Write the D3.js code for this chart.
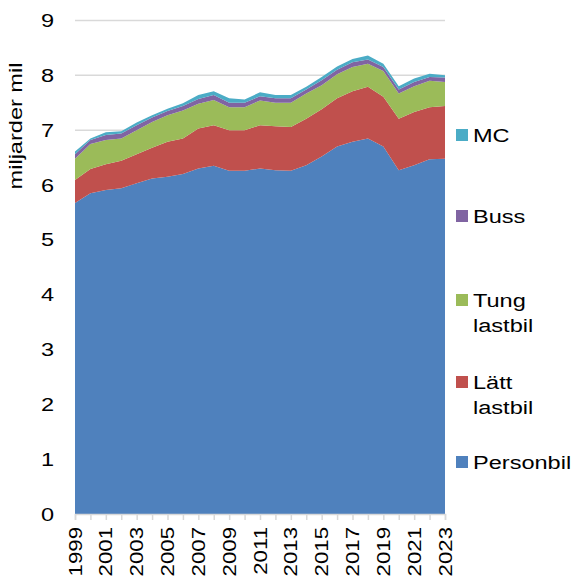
<!DOCTYPE html>
<html>
<head>
<meta charset="utf-8">
<script src="https://cdn.jsdelivr.net/npm/d3@7"></script>
<style>
  body { margin: 0; background: #fff; }
  svg text { font-family: "Liberation Sans", Arial, sans-serif; fill: #000; }
</style>
</head>
<body>
<svg id="svg" width="575" height="580"></svg>
<script>
var years = d3.range(1999, 2024);

var personbil   = [5.67,5.85,5.91,5.94,6.03,6.12,6.15,6.20,6.30,6.35,6.26,6.26,6.30,6.27,6.26,6.36,6.52,6.70,6.79,6.85,6.70,6.27,6.36,6.47,6.48];
var lattLastbil = [0.42,0.44,0.47,0.50,0.53,0.56,0.64,0.65,0.73,0.74,0.74,0.74,0.79,0.80,0.80,0.85,0.86,0.88,0.92,0.94,0.91,0.94,0.97,0.95,0.96];
var tungLastbil = [0.39,0.46,0.44,0.41,0.44,0.47,0.48,0.51,0.45,0.46,0.42,0.42,0.45,0.43,0.44,0.46,0.44,0.44,0.44,0.42,0.47,0.46,0.47,0.48,0.44];
var buss        = [0.08,0.07,0.09,0.09,0.09,0.08,0.08,0.08,0.09,0.09,0.08,0.08,0.08,0.08,0.08,0.07,0.09,0.08,0.09,0.08,0.07,0.07,0.08,0.07,0.08];
var mc          = [0.05,0.03,0.05,0.04,0.05,0.04,0.04,0.05,0.07,0.07,0.08,0.06,0.07,0.06,0.06,0.05,0.06,0.06,0.06,0.07,0.06,0.06,0.06,0.06,0.04];

var keys = ["Personbil", "Lätt lastbil", "Tung lastbil", "Buss", "MC"];
var colors = ["#4f81bd", "#c0504d", "#9bbb59", "#8064a2", "#4bacc6"];
var yTicks = d3.range(0, 10);
var yearLabels = years.filter(function(d) { return d % 2 === 1; });

var table = years.map(function(y, i) {
  return { year: y, "Personbil": personbil[i], "Lätt lastbil": lattLastbil[i],
           "Tung lastbil": tungLastbil[i], "Buss": buss[i], "MC": mc[i] };
});

var svg = d3.select("#svg");

// text in the original is a bit wide, stretch along the writing direction
var FS = "19px", SX = "scale(1.24,1)";

var x = d3.scaleLinear().domain([1999, 2023]).range([75, 445]);
var y = d3.scaleLinear().domain([0, 9]).range([514, 20.5]);
var color = d3.scaleOrdinal().domain(keys).range(colors);

// gridlines
svg.append("g")
  .selectAll("line")
  .data(yTicks.slice(1))
  .enter().append("line")
    .attr("x1", x(1999)).attr("x2", x(2023))
    .attr("y1", function(d) { return y(d); })
    .attr("y2", function(d) { return y(d); })
    .attr("stroke", "#d9d9d9")
    .attr("stroke-width", 1.5);

var series = d3.stack().keys(keys)(table);

var area = d3.area()
    .x(function(d) { return x(d.data.year); })
    .y0(function(d) { return y(d[0]); })
    .y1(function(d) { return y(d[1]); });

svg.append("g")
  .selectAll("path")
  .data(series)
  .enter().append("path")
    .attr("fill", function(d) { return color(d.key); })
    .attr("d", area);

// x axis ticks
var xAxis = svg.append("g")
    .attr("transform", "translate(0," + y(0) + ")")
    .call(d3.axisBottom(x)
      .tickValues(years)
      .tickSize(6)
      .tickFormat(""));
xAxis.select(".domain").attr("stroke", "#d9d9d9").attr("stroke-width", 1.5);
xAxis.selectAll(".tick line").attr("stroke", "#d9d9d9").attr("stroke-width", 1.5);

// year labels, a little less stretched so they fit above the bottom edge
svg.append("g")
  .selectAll("text")
  .data(yearLabels)
  .enter().append("text")
    .attr("transform", function(d) { return "translate(" + x(d) + ",527) rotate(-90) scale(1.17,1)"; })
    .attr("text-anchor", "end")
    .attr("dy", "0.35em")
    .attr("font-size", FS)
    .text(function(d) { return d; });

// y axis labels
svg.append("g")
  .selectAll("text")
  .data(yTicks)
  .enter().append("text")
    .attr("transform", function(d) { return "translate(54," + y(d) + ") " + SX; })
    .attr("dy", "0.35em")
    .attr("text-anchor", "end")
    .attr("font-size", FS)
    .text(function(d) { return d; });

svg.append("text")
    .attr("transform", "translate(22,126) rotate(-90) " + SX)
    .attr("text-anchor", "middle")
    .attr("font-size", FS)
    .text("miljarder mil");

// legend
var legendItems = [
  { key: "MC", lines: ["MC"], y: 135 },
  { key: "Buss", lines: ["Buss"], y: 216 },
  { key: "Tung lastbil", lines: ["Tung", "lastbil"], y: 300 },
  { key: "Lätt lastbil", lines: ["Lätt", "lastbil"], y: 382 },
  { key: "Personbil", lines: ["Personbil"], y: 462 }
];

var lg = svg.append("g")
  .selectAll("g")
  .data(legendItems)
  .enter().append("g")
    .attr("transform", function(d) { return "translate(456," + d.y + ")"; });

lg.append("rect")
    .attr("x", 0).attr("y", -6)
    .attr("width", 12).attr("height", 12)
    .attr("fill", function(d) { return color(d.key); });

lg.each(function(d) {
  d3.select(this).selectAll("text.l")
    .data(d.lines)
    .enter().append("text")
      .attr("transform", function(t, i) { return "translate(17," + (i * 25) + ") " + SX; })
      .attr("dy", "0.35em")
      .attr("font-size", FS)
      .text(function(t) { return t; });
});
</script>
</body>
</html>
